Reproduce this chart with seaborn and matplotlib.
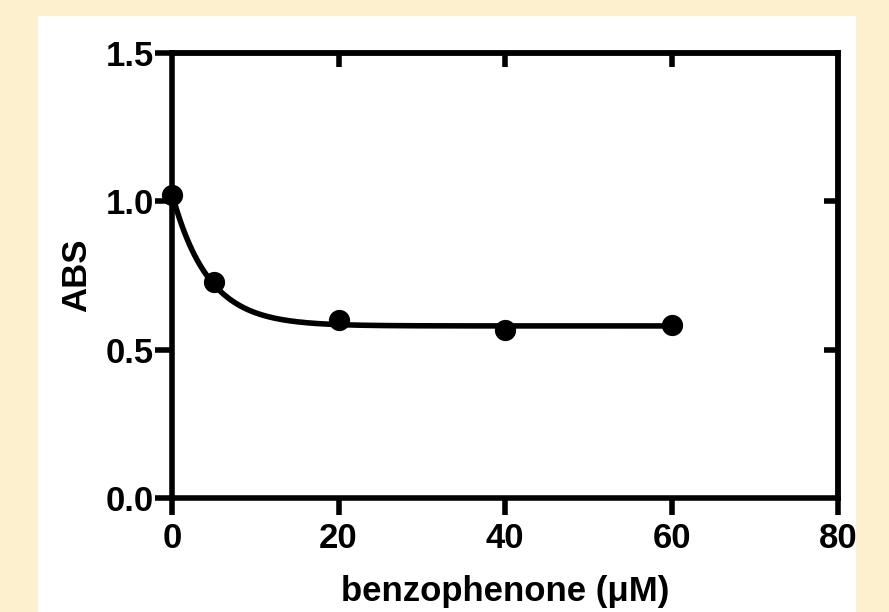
import matplotlib
matplotlib.use("Agg")
import matplotlib.pyplot as plt
from matplotlib.patches import Rectangle
import seaborn as sns
import numpy as np
import pandas as pd

sns.set_style("white")
plt.rcParams['font.family'] = ['Liberation Sans', 'DejaVu Sans']
plt.rcParams['font.weight'] = 'bold'
plt.rcParams.update({"text.color": "black", "axes.labelcolor": "black",
                     "xtick.color": "black", "ytick.color": "black"})

# measured points
conc = [0, 5, 20, 40, 60]
absorb = [1.02, 0.728, 0.600, 0.566, 0.583]

# one-phase decay fit
plateau = 0.58
y0 = 1.025
rate = 0.23

xticks = [0, 20, 40, 60, 80]
yticks = [0.0, 0.5, 1.0, 1.5]

pts = pd.DataFrame({"conc": conc, "ABS": absorb})
xs = np.linspace(0, 60, 200)
fit = pd.DataFrame({"conc": xs, "ABS": plateau + (y0 - plateau) * np.exp(-rate * xs)})

fig = plt.figure(figsize=(8.89, 6.12), dpi=100)
fig.patch.set_facecolor("#fdf0cf")
fig.patches.append(Rectangle((38 / 889, 0), (856 - 38) / 889, 1 - 16 / 612,
                             transform=fig.transFigure, facecolor="white",
                             edgecolor="none", zorder=-10))
ax = fig.add_axes([172 / 889, 1 - 498 / 612, (838 - 172) / 889, (498 - 53) / 612])
ax.set_facecolor("white")

sns.lineplot(data=fit, x="conc", y="ABS", ax=ax, color="black", linewidth=4.0,
             clip_on=False, zorder=3)
sns.scatterplot(data=pts, x="conc", y="ABS", ax=ax, color="black", s=200,
                edgecolor="black", clip_on=False, zorder=4)

ax.set_xlim(0, 80)
ax.set_ylim(0, 1.5)
ax.set_xticks(xticks)
ax.set_yticks(yticks)
ax.set_xticklabels([str(t) for t in xticks])
ax.set_yticklabels([f"{t:.1f}" for t in yticks])
ax.tick_params(axis="both", direction="out", length=12, width=4, color="black",
               labelsize=25, labelcolor="black", bottom=True, left=True)
ax.tick_params(axis="y", pad=1)
ax.tick_params(axis="x", pad=5)
for lab in ax.get_xticklabels() + ax.get_yticklabels():
    lab.set_fontweight("bold")

for sp in ax.spines.values():
    sp.set_visible(True)
    sp.set_linewidth(4)
    sp.set_color("black")

top = ax.secondary_xaxis("top")
top.set_xticks([20, 40, 60])
top.tick_params(direction="in", length=10, width=4, color="black", labeltop=False)
top.spines["top"].set_linewidth(4)
right = ax.secondary_yaxis("right")
right.set_yticks([0.5, 1.0])
right.tick_params(direction="in", length=10, width=4, color="black", labelright=False)
right.spines["right"].set_linewidth(4)

ax.set_xlabel("benzophenone (μM)", fontsize=25, fontweight="bold", labelpad=15)
ax.set_ylabel("ABS", fontsize=25, fontweight="bold", labelpad=9)

fig.savefig("out.png", dpi=100, facecolor=fig.get_facecolor())
